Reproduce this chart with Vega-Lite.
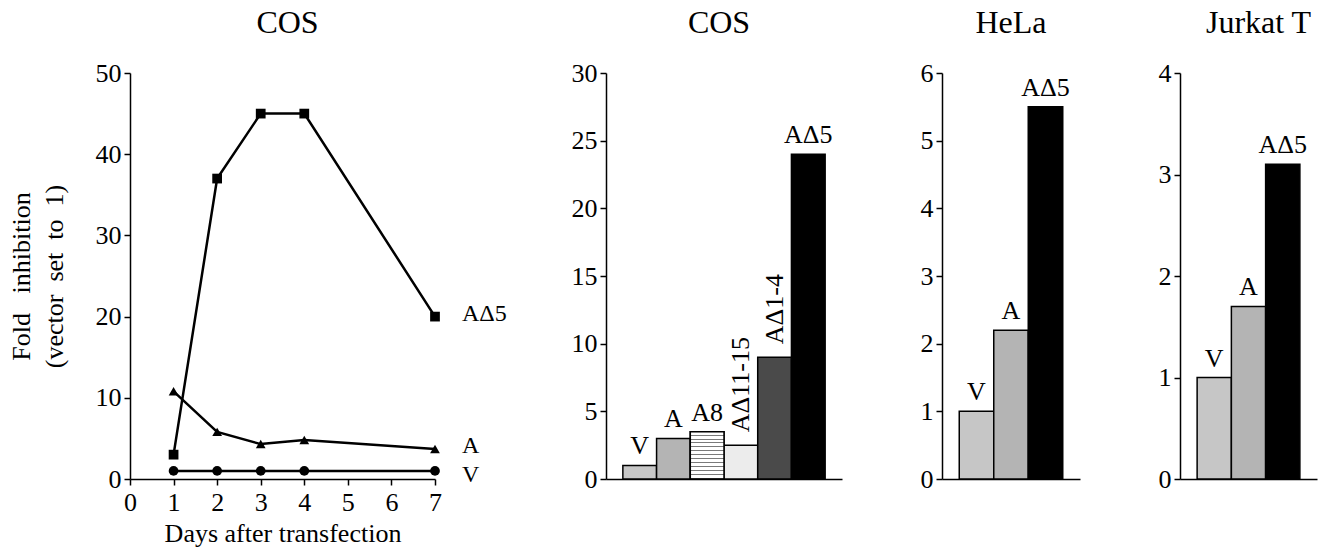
{
  "$schema": "https://vega.github.io/schema/vega-lite/v6.json",
  "autosize": {"type": "none"},
  "padding": {"left": 130, "top": 73, "right": 1194, "bottom": 478},
  "background": "white",
  "config": {
    "font": "Liberation Serif",
    "view": {"stroke": null},
    "axis": {
      "domainColor": "black", "domainWidth": 1.5,
      "tickColor": "black", "tickWidth": 1.5, "tickSize": 6,
      "labelColor": "black", "labelFont": "Liberation Serif", "labelFontSize": 26, "labelPadding": 3, "labelFlush": false,
      "titleFont": "Liberation Serif", "titleFontSize": 26, "titleFontWeight": "normal", "titleColor": "black",
      "grid": false
    },
    "title": {"font": "Liberation Serif", "fontSize": 32, "fontWeight": "normal", "color": "black", "frame": "group", "anchor": "middle", "offset": 20}
  },
  "datasets": {
    "timecourse": [
      {"series": "AΔ5", "day": 1, "fold": 3},
      {"series": "AΔ5", "day": 2, "fold": 37},
      {"series": "AΔ5", "day": 3, "fold": 45},
      {"series": "AΔ5", "day": 4, "fold": 45},
      {"series": "AΔ5", "day": 7, "fold": 20},
      {"series": "A", "day": 1, "fold": 10.8},
      {"series": "A", "day": 2, "fold": 5.8},
      {"series": "A", "day": 3, "fold": 4.3},
      {"series": "A", "day": 4, "fold": 4.8},
      {"series": "A", "day": 7, "fold": 3.7},
      {"series": "V", "day": 1, "fold": 1},
      {"series": "V", "day": 2, "fold": 1},
      {"series": "V", "day": 3, "fold": 1},
      {"series": "V", "day": 4, "fold": 1},
      {"series": "V", "day": 7, "fold": 1}
    ],
    "cos": [
      {"construct": "V", "fold": 1},
      {"construct": "A", "fold": 3},
      {"construct": "A8", "fold": 3.5},
      {"construct": "AΔ11-15", "fold": 2.5},
      {"construct": "AΔ1-4", "fold": 9},
      {"construct": "AΔ5", "fold": 24}
    ],
    "hela": [
      {"construct": "V", "fold": 1},
      {"construct": "A", "fold": 2.2},
      {"construct": "AΔ5", "fold": 5.5}
    ],
    "jurkat": [
      {"construct": "V", "fold": 1},
      {"construct": "A", "fold": 1.7},
      {"construct": "AΔ5", "fold": 3.1}
    ]
  },
  "bounds": "flush",
  "spacing": 171,
  "hconcat": [
    {
      "width": 305, "height": 406,
      "title": {"text": "COS", "dx": 5},
      "data": {"name": "timecourse"},
      "layer": [
        {
          "mark": {"type": "line", "color": "black", "strokeWidth": 2.5},
          "encoding": {
            "x": {"field": "day", "type": "quantitative", "scale": {"domain": [0, 7]},
                  "axis": {"values": [0, 1, 2, 3, 4, 5, 6, 7], "title": "Days after transfection", "labelPadding": 4, "titlePadding": 5}},
            "y": {"field": "fold", "type": "quantitative", "scale": {"domain": [0, 50]},
                  "axis": {"values": [0, 10, 20, 30, 40, 50], "title": ["Fold\u00a0\u00a0 inhibition", "(vector\u00a0 set\u00a0 to\u00a0 1)"], "titlePadding": 28, "titleLineHeight": 33}},
            "detail": {"field": "series", "type": "nominal"}
          }
        },
        {
          "mark": {"type": "point", "filled": true, "color": "black", "size": 95, "opacity": 1},
          "encoding": {
            "x": {"field": "day", "type": "quantitative"},
            "y": {"field": "fold", "type": "quantitative"},
            "shape": {"field": "series", "type": "nominal", "scale": {"domain": ["AΔ5", "A", "V"], "range": ["square", "triangle-up", "circle"]}, "legend": null}
          }
        },
        {
          "transform": [{"filter": "datum.day === 7 && datum.series !== 'V'"}],
          "mark": {"type": "text", "align": "left", "baseline": "middle", "dx": 27, "dy": -3, "fontSize": 24, "font": "Liberation Serif", "color": "black"},
          "encoding": {
            "x": {"field": "day", "type": "quantitative"},
            "y": {"field": "fold", "type": "quantitative"},
            "text": {"field": "series", "type": "nominal"}
          }
        },
        {
          "transform": [{"filter": "datum.day === 7 && datum.series === 'V'"}],
          "mark": {"type": "text", "align": "left", "baseline": "middle", "dx": 27, "dy": 4, "fontSize": 24, "font": "Liberation Serif", "color": "black"},
          "encoding": {
            "x": {"field": "day", "type": "quantitative"},
            "y": {"field": "fold", "type": "quantitative"},
            "text": {"field": "series", "type": "nominal"}
          }
        }
      ]
    },
    {
      "bounds": "flush",
      "spacing": 100,
      "hconcat": [
        {
          "width": 236, "height": 406,
          "title": {"text": "COS", "dx": -5},
          "data": {"name": "cos"},
          "encoding": {
            "x": {"field": "construct", "type": "nominal", "sort": null, "scale": {"paddingInner": 0, "paddingOuter": 0.5}, "axis": {"labels": false, "ticks": false, "title": null}},
            "y": {"field": "fold", "type": "quantitative", "scale": {"domain": [0, 30]}, "axis": {"values": [0, 5, 10, 15, 20, 25, 30], "title": null}}
          },
          "layer": [
            {
              "mark": {"type": "bar", "stroke": "black", "strokeWidth": 1.5},
              "encoding": {
                "fill": {"field": "construct", "type": "nominal", "scale": {"domain": ["V", "A", "A8", "AΔ11-15", "AΔ1-4", "AΔ5"], "range": ["#c6c6c6", "#b4b4b4", "#dcdcdc", "#ececec", "#4a4a4a", "#000000"]}, "legend": null}
              }
            },
            {
              "transform": [{"filter": "datum.construct === 'A8'"}],
              "mark": {"type": "bar", "stroke": "black", "strokeWidth": 1.5,
                "fill": {"gradient": "linear", "x1": 0, "y1": 0, "x2": 0, "y2": 1, "stops": [
                  {"offset": 0, "color": "white"}, {"offset": 0.0625, "color": "white"}, {"offset": 0.0625, "color": "#7a7a7a"}, {"offset": 0.0833, "color": "#7a7a7a"},
                  {"offset": 0.0833, "color": "white"}, {"offset": 0.1458, "color": "white"}, {"offset": 0.1458, "color": "#7a7a7a"}, {"offset": 0.1667, "color": "#7a7a7a"},
                  {"offset": 0.1667, "color": "white"}, {"offset": 0.2292, "color": "white"}, {"offset": 0.2292, "color": "#7a7a7a"}, {"offset": 0.25, "color": "#7a7a7a"},
                  {"offset": 0.25, "color": "white"}, {"offset": 0.3125, "color": "white"}, {"offset": 0.3125, "color": "#7a7a7a"}, {"offset": 0.3333, "color": "#7a7a7a"},
                  {"offset": 0.3333, "color": "white"}, {"offset": 0.3958, "color": "white"}, {"offset": 0.3958, "color": "#7a7a7a"}, {"offset": 0.4167, "color": "#7a7a7a"},
                  {"offset": 0.4167, "color": "white"}, {"offset": 0.4792, "color": "white"}, {"offset": 0.4792, "color": "#7a7a7a"}, {"offset": 0.5, "color": "#7a7a7a"},
                  {"offset": 0.5, "color": "white"}, {"offset": 0.5625, "color": "white"}, {"offset": 0.5625, "color": "#7a7a7a"}, {"offset": 0.5833, "color": "#7a7a7a"},
                  {"offset": 0.5833, "color": "white"}, {"offset": 0.6458, "color": "white"}, {"offset": 0.6458, "color": "#7a7a7a"}, {"offset": 0.6667, "color": "#7a7a7a"},
                  {"offset": 0.6667, "color": "white"}, {"offset": 0.7292, "color": "white"}, {"offset": 0.7292, "color": "#7a7a7a"}, {"offset": 0.75, "color": "#7a7a7a"},
                  {"offset": 0.75, "color": "white"}, {"offset": 0.8125, "color": "white"}, {"offset": 0.8125, "color": "#7a7a7a"}, {"offset": 0.8333, "color": "#7a7a7a"},
                  {"offset": 0.8333, "color": "white"}, {"offset": 0.8958, "color": "white"}, {"offset": 0.8958, "color": "#7a7a7a"}, {"offset": 0.9167, "color": "#7a7a7a"},
                  {"offset": 0.9167, "color": "white"}, {"offset": 0.9792, "color": "white"}, {"offset": 0.9792, "color": "#7a7a7a"}, {"offset": 1, "color": "#7a7a7a"}
                ]}},
              "encoding": {}
            },
            {
              "transform": [{"filter": "datum.construct !== 'AΔ11-15' && datum.construct !== 'AΔ1-4'"}],
              "mark": {"type": "text", "baseline": "alphabetic", "align": "center", "dy": -11, "fontSize": 26, "font": "Liberation Serif", "color": "black"},
              "encoding": {"text": {"field": "construct", "type": "nominal"}}
            },
            {
              "transform": [{"filter": "datum.construct === 'AΔ11-15' || datum.construct === 'AΔ1-4'"}],
              "mark": {"type": "text", "baseline": "middle", "align": "left", "angle": 270, "dx": 13, "fontSize": 26, "font": "Liberation Serif", "color": "black"},
              "encoding": {"text": {"field": "construct", "type": "nominal"}}
            }
          ]
        },
        {
          "width": 138, "height": 406,
          "title": "HeLa",
          "data": {"name": "hela"},
          "encoding": {
            "x": {"field": "construct", "type": "nominal", "sort": null, "scale": {"paddingInner": 0, "paddingOuter": 0.5}, "axis": {"labels": false, "ticks": false, "title": null}},
            "y": {"field": "fold", "type": "quantitative", "scale": {"domain": [0, 6]}, "axis": {"values": [0, 1, 2, 3, 4, 5, 6], "title": null}}
          },
          "layer": [
            {
              "mark": {"type": "bar", "stroke": "black", "strokeWidth": 1.5},
              "encoding": {
                "fill": {"field": "construct", "type": "nominal", "scale": {"domain": ["V", "A", "AΔ5"], "range": ["#c6c6c6", "#b4b4b4", "#000000"]}, "legend": null}
              }
            },
            {
              "mark": {"type": "text", "baseline": "alphabetic", "align": "center", "dy": -11, "fontSize": 26, "font": "Liberation Serif", "color": "black"},
              "encoding": {"text": {"field": "construct", "type": "nominal"}}
            }
          ]
        },
        {
          "width": 137, "height": 406,
          "title": {"text": "Jurkat T", "dx": 10},
          "data": {"name": "jurkat"},
          "encoding": {
            "x": {"field": "construct", "type": "nominal", "sort": null, "scale": {"paddingInner": 0, "paddingOuter": 0.5}, "axis": {"labels": false, "ticks": false, "title": null}},
            "y": {"field": "fold", "type": "quantitative", "scale": {"domain": [0, 4]}, "axis": {"values": [0, 1, 2, 3, 4], "title": null}}
          },
          "layer": [
            {
              "mark": {"type": "bar", "stroke": "black", "strokeWidth": 1.5},
              "encoding": {
                "fill": {"field": "construct", "type": "nominal", "scale": {"domain": ["V", "A", "AΔ5"], "range": ["#c6c6c6", "#b4b4b4", "#000000"]}, "legend": null}
              }
            },
            {
              "mark": {"type": "text", "baseline": "alphabetic", "align": "center", "dy": -11, "fontSize": 26, "font": "Liberation Serif", "color": "black"},
              "encoding": {"text": {"field": "construct", "type": "nominal"}}
            }
          ]
        }
      ]
    }
  ]
}
